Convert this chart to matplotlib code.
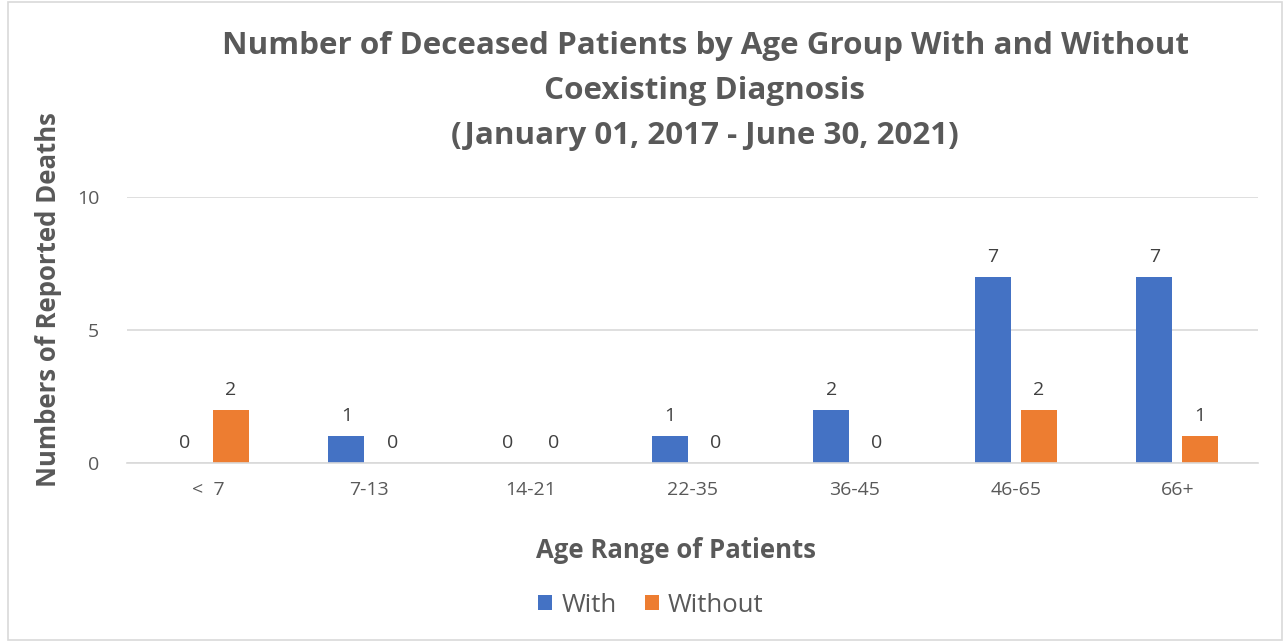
import numpy as np
import matplotlib.pyplot as plt
from matplotlib.patches import Rectangle

age_groups = ['<  7', '7-13', '14-21', '22-35', '36-45', '46-65', '66+']
with_diag = [0, 1, 0, 1, 2, 7, 7]
without_diag = [2, 0, 0, 0, 0, 2, 1]

blue = '#4472C4'
orange = '#ED7D31'
gray = '#595959'
plt.rcParams['font.family'] = ['Open Sans', 'DejaVu Sans']

fig = plt.figure(figsize=(12.86, 6.42), dpi=100)
ax = fig.add_axes([0.0988, 0.279, 0.8795, 0.414])

x = np.arange(len(age_groups))
w = 0.223
off = 0.142
b1 = ax.bar(x - off, with_diag, w, color=blue, label='With')
b2 = ax.bar(x + off, without_diag, w, color=orange, label='Without')

for bars in (b1, b2):
    for rect in bars:
        h = rect.get_height()
        ax.annotate(str(int(h)), (rect.get_x() + rect.get_width() / 2, h),
                    xytext=(0, 8), textcoords='offset points',
                    ha='center', va='bottom', fontsize=14, color='#404040')

ax.set_xlim(-0.5, len(age_groups) - 0.5)
ax.set_ylim(0, 10)
ax.set_yticks([0, 5, 10])
ax.set_xticks(x)
ax.set_xticklabels(age_groups)
ax.tick_params(axis='both', length=0, labelsize=14, labelcolor=gray)
ax.tick_params(axis='x', pad=13)
ax.tick_params(axis='y', pad=20)
ax.grid(axis='y', color='#D9D9D9', linewidth=1.2)
ax.set_axisbelow(True)
for s in ['top', 'right', 'left']:
    ax.spines[s].set_visible(False)
ax.spines['bottom'].set_color('#D9D9D9')
ax.spines['bottom'].set_linewidth(1.2)

fig.text(676 / 1286, 1 - 551 / 642, 'Age Range of Patients', ha='center', va='center',
         fontsize=18.5, fontweight='bold', color=gray)
fig.text(48 / 1286, 1 - 300 / 642, 'Numbers of Reported Deaths', ha='center', va='center',
         rotation=90, fontsize=18.5, fontweight='bold', color=gray)

fig.text(705 / 1286, 1 - 46 / 642, 'Number of Deceased Patients by Age Group With and Without',
         ha='center', va='center', fontsize=22.6, fontweight='bold', color=gray)
fig.text(705 / 1286, 1 - 91 / 642, 'Coexisting Diagnosis',
         ha='center', va='center', fontsize=22.6, fontweight='bold', color=gray)
fig.text(705 / 1286, 1 - 136 / 642, '(January 01, 2017 - June 30, 2021)',
         ha='center', va='center', fontsize=22.6, fontweight='bold', color=gray)

fig.legend(handles=[b1, b2], loc='center', bbox_to_anchor=(651 / 1286, 1 - 605 / 642), ncol=2,
           frameon=False, fontsize=18.5, labelcolor=gray, handlelength=0.55, handleheight=0.55,
           handletextpad=0.35, columnspacing=1.1)

fig.patches.append(Rectangle((0.006, 0.003), 0.991, 0.994, transform=fig.transFigure,
                             fill=False, edgecolor='#D9D9D9', linewidth=1.2))

fig.savefig('out.png', dpi=100)
